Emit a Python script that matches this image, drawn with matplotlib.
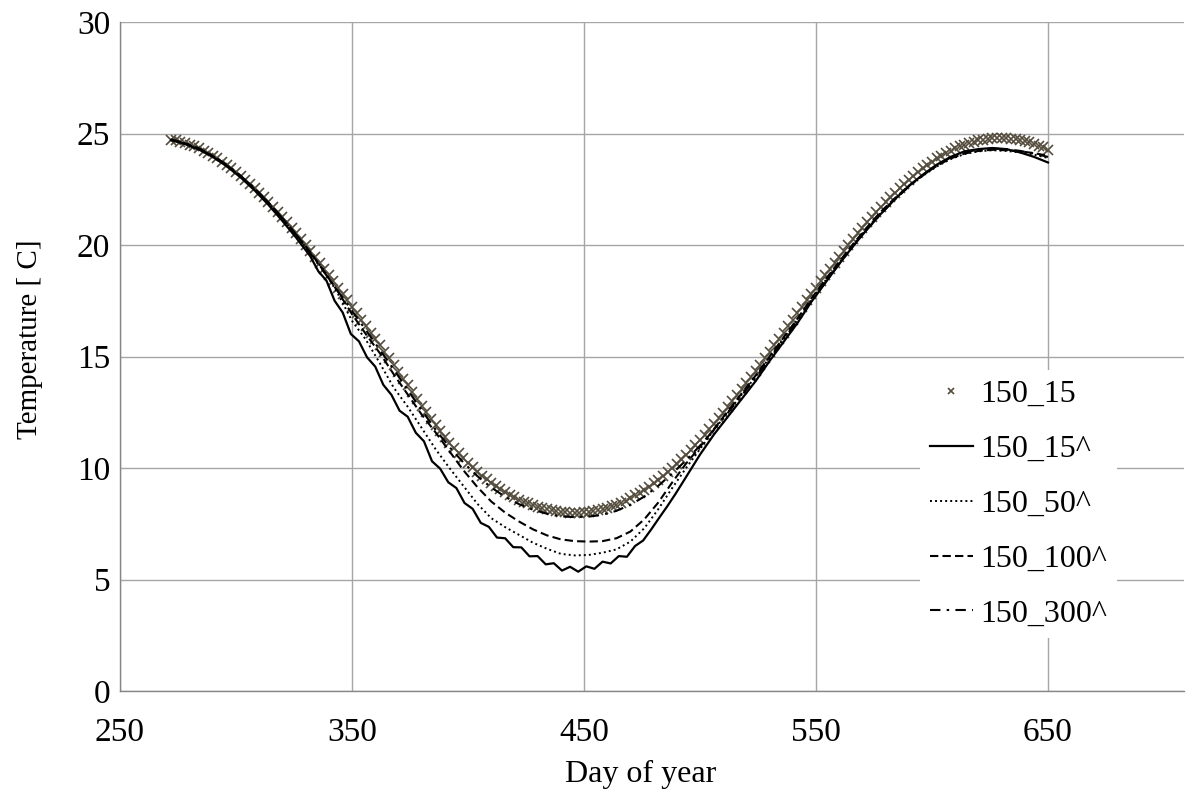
import matplotlib
matplotlib.use("Agg")
import matplotlib.pyplot as plt

# ---------------- data ----------------
marker_days = list(range(272, 651, 2))
t_150_15 = [
    24.73, 24.69, 24.64, 24.57, 24.50, 24.42, 24.33, 24.23, 24.12, 24.00, 23.88, 23.74, 23.59, 23.44, 23.28,
    23.11, 22.93, 22.75, 22.55, 22.35, 22.15, 21.93, 21.71, 21.48, 21.25, 21.01, 20.77, 20.52, 20.26, 20.00,
    19.74, 19.47, 19.20, 18.93, 18.65, 18.37, 18.09, 17.80, 17.52, 17.23, 16.94, 16.65, 16.36, 16.07, 15.79,
    15.50, 15.21, 14.93, 14.62, 14.30, 14.00, 13.70, 13.40, 13.10, 12.80, 12.50, 12.20, 11.92, 11.65, 11.39,
    11.14, 10.90, 10.67, 10.45, 10.23, 10.03, 9.84, 9.66, 9.49, 9.33, 9.18, 9.04, 8.91, 8.79, 8.68,
    8.58, 8.49, 8.41, 8.33, 8.26, 8.20, 8.15, 8.10, 8.06, 8.03, 8.01, 8.00, 8.00,
    8.00, 8.01, 8.03, 8.06, 8.10, 8.15, 8.21, 8.28, 8.36, 8.45, 8.54, 8.65, 8.77, 8.89, 9.02,
    9.17, 9.32, 9.48, 9.65, 9.82, 10.01, 10.20, 10.40, 10.60, 10.82, 11.04, 11.26, 11.49, 11.73, 11.98,
    12.22, 12.47, 12.73, 12.99, 13.26, 13.53, 13.80, 14.08, 14.36, 14.64, 14.93, 15.21, 15.50, 15.79, 16.07,
    16.36, 16.65, 16.94, 17.23, 17.52, 17.80, 18.09, 18.37, 18.65, 18.93, 19.20, 19.47, 19.74, 20.00, 20.26,
    20.52, 20.77, 21.01, 21.25, 21.48, 21.71, 21.93, 22.15, 22.35, 22.55, 22.75, 22.93, 23.11, 23.28, 23.44,
    23.59, 23.74, 23.88, 24.00, 24.12, 24.23, 24.33, 24.42, 24.50, 24.57, 24.64, 24.69, 24.73, 24.76, 24.78,
    24.80, 24.80, 24.79, 24.77, 24.75, 24.71, 24.66, 24.61, 24.54, 24.46, 24.38, 24.28,
]

solid_days = ([272, 278, 284, 290, 296, 302, 308, 314, 320, 326, 332]
              + [332 + 3.5 * n for n in range(1, 47)]
              + list(range(500, 651, 6)))
t_150_15h = [
    24.70, 24.53, 24.28, 23.95, 23.53, 23.03, 22.45, 21.80, 21.08, 20.32, 19.50,
    18.82, 18.40, 17.50, 16.97, 16.01, 15.68, 14.96, 14.55, 13.73, 13.28,
    12.57, 12.30, 11.58, 11.20, 10.30, 9.97, 9.36, 9.10, 8.43, 8.17,
    7.54, 7.36, 6.88, 6.85, 6.45, 6.44, 6.04, 6.05, 5.68, 5.73,
    5.40, 5.57, 5.35, 5.59, 5.48, 5.80, 5.72, 6.05, 6.02, 6.50,
    6.75, 7.25, 7.78, 8.30, 8.85, 9.43,
    10.6, 11.5, 12.3, 13.1, 13.9, 14.8, 15.65, 16.5, 17.45, 18.3, 19.15, 19.95, 20.7,
    21.4, 22.05, 22.65, 23.15, 23.6, 23.95, 24.2, 24.3, 24.35, 24.3, 24.15, 23.95, 23.7,
]

line_days = list(range(272, 651, 6))
t_150_50h = [
    24.72, 24.55, 24.31, 23.98, 23.57, 23.08, 22.51, 21.87, 21.17, 20.43, 19.65, 18.85, 17.8, 16.6, 15.75,
    14.7, 13.6, 12.75, 11.8, 10.85, 10.0, 9.2, 8.4, 7.75, 7.35, 7.0, 6.65, 6.38, 6.15, 6.08,
    6.1, 6.2, 6.35, 6.7, 7.3, 8.15, 9.1, 10.0, 10.85, 11.7, 12.5, 13.3, 14.1, 14.95, 15.8,
    16.65, 17.55, 18.4, 19.2, 20.0, 20.75, 21.45, 22.05, 22.62, 23.1, 23.52, 23.85, 24.08, 24.2, 24.25,
    24.22, 24.15, 24.05, 23.9,
]
t_150_100h = [
    24.73, 24.56, 24.32, 23.99, 23.58, 23.09, 22.53, 21.9, 21.2, 20.46, 19.68, 18.8, 17.9, 16.9, 16.0,
    15.15, 14.2, 13.3, 12.4, 11.6, 10.75, 9.9, 9.15, 8.5, 8.0, 7.6, 7.25, 6.98, 6.8, 6.72,
    6.7, 6.72, 6.85, 7.15, 7.7, 8.45, 9.35, 10.2, 10.95, 11.75, 12.55, 13.35, 14.15, 15.0, 15.85,
    16.7, 17.6, 18.45, 19.25, 20.05, 20.8, 21.5, 22.1, 22.65, 23.12, 23.55, 23.88, 24.1, 24.22, 24.27,
    24.25, 24.2, 24.12, 24.0,
]
t_150_300h = [
    24.73, 24.57, 24.33, 24.0, 23.59, 23.1, 22.54, 21.9, 21.2, 20.45, 19.62, 18.78, 17.92, 17.05, 16.18,
    15.3, 14.42, 13.5, 12.6, 11.72, 10.94, 10.25, 9.64, 9.13, 8.71, 8.38, 8.13, 7.95, 7.83, 7.8,
    7.82, 7.9, 8.08, 8.35, 8.72, 9.2, 9.75, 10.35, 11.0, 11.72, 12.47, 13.25, 14.05, 14.9, 15.75,
    16.6, 17.48, 18.33, 19.15, 19.95, 20.7, 21.4, 22.04, 22.62, 23.13, 23.57, 23.92, 24.15, 24.28, 24.32,
    24.3, 24.22, 24.1, 23.95,
]

labels = ["150_15", "150_15^", "150_50^", "150_100^", "150_300^"]
x_ticks = [250, 350, 450, 550, 650]
y_ticks = [0, 5, 10, 15, 20, 25, 30]

# ---------------- plot ----------------
plt.rcParams['font.family'] = ['Liberation Serif', 'DejaVu Serif']
fig = plt.figure(figsize=(11.94, 7.90), dpi=100)
ax = fig.add_axes([120 / 1194, 1 - 691 / 790, 1064 / 1194, 669 / 790])

ax.plot(marker_days, t_150_15, linestyle='none', marker='x', markersize=6.5,
        markeredgewidth=1.2, color='#544d3e', label=labels[0], zorder=3)
ax.plot(solid_days, t_150_15h, color='black', lw=1.6, ls='-', label=labels[1], zorder=4)
ax.plot(line_days, t_150_50h, color='black', lw=1.4, ls=(0, (1, 1.6)), label=labels[2], zorder=4)
ax.plot(line_days, t_150_100h, color='black', lw=1.5, ls=(0, (4, 2)), label=labels[3], zorder=4)
ax.plot(line_days, t_150_300h, color='black', lw=1.5, ls=(0, (5, 3, 1.2, 3)), label=labels[4], zorder=4)

ax.set_xlim(250, 250 + 1064 / 2.32)
ax.set_ylim(0, 30)
ax.set_xticks(x_ticks)
ax.set_yticks(y_ticks)
ax.grid(True, color='#a6a6a6', lw=1.0)
ax.set_axisbelow(True)
for s in ['top', 'right']:
    ax.spines[s].set_visible(False)
for s in ['left', 'bottom']:
    ax.spines[s].set_color('#868686')
    ax.spines[s].set_linewidth(1.0)
ax.tick_params(axis='both', labelsize=24, colors='black', length=0, direction='out')
ax.tick_params(axis='x', pad=19)
ax.tick_params(axis='y', pad=7)
ax.set_xlabel('Day of year', fontsize=23)
ax.set_ylabel('Temperature [ C]', fontsize=21)
ax.xaxis.set_label_coords((641 - 120) / 1064, (691 - 760) / 669)
ax.yaxis.set_label_coords((43 - 120) / 1064, (691 - 339) / 669)

leg = ax.legend(loc='upper left', bbox_to_anchor=((920 - 120) / 1064, (691 - 370) / 669),
                fontsize=23, frameon=True, facecolor='white', edgecolor='none', framealpha=1,
                handlelength=1.35, handletextpad=0.25, labelspacing=0.8, borderpad=0.3,
                borderaxespad=0, fancybox=False, markerscale=0.7)
leg.set_zorder(5)

fig.savefig('out.png', dpi=100)
